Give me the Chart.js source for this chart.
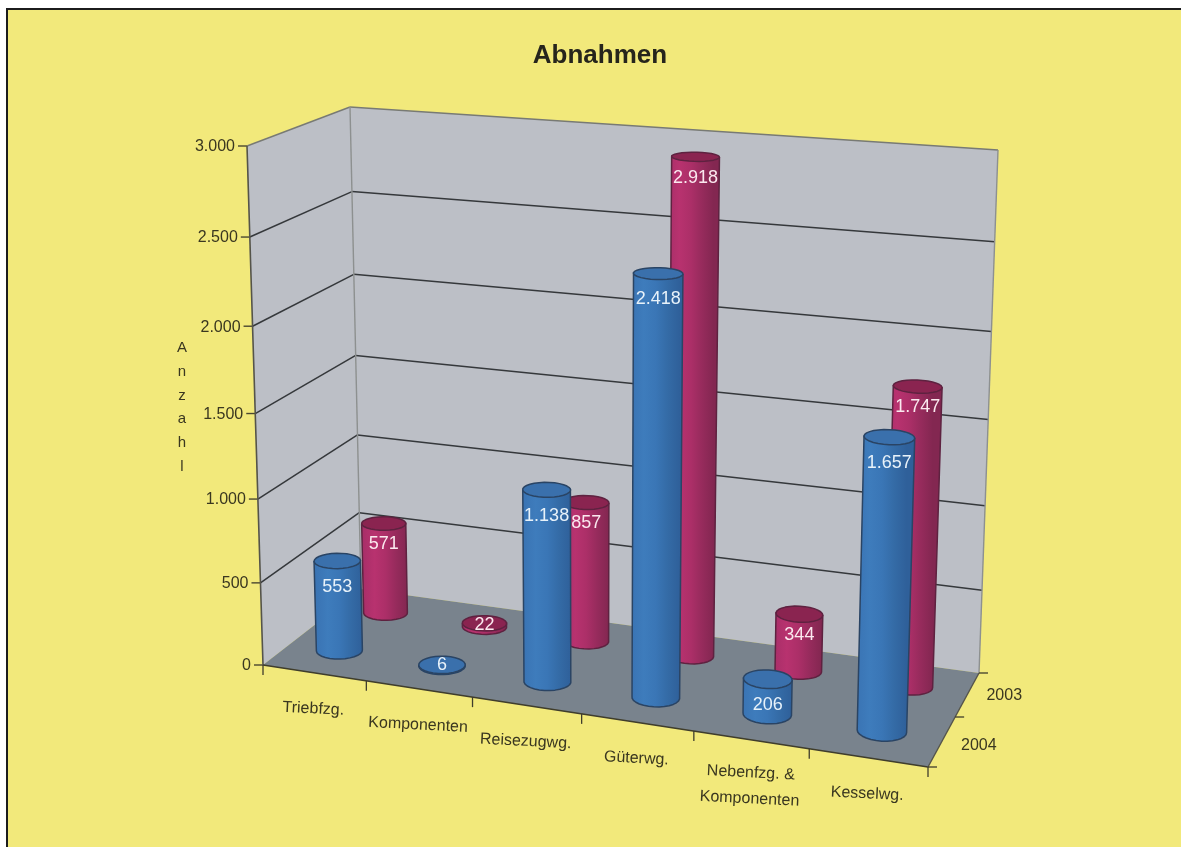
<!DOCTYPE html>
<html lang="de">

<head>
    <meta charset="UTF-8">
    <title>Abnahmen</title>
    <style>
        * {
            box-sizing: border-box;
            margin: 0;
            padding: 0;
        }

        html,
        body {
            width: 1181px;
            height: 847px;
            overflow: hidden;
            background: #fff;
        }

        #frame {
            position: absolute;
            left: 6px;
            top: 8px;
            width: 1175px;
            height: 839px;
            background: #f2e97b;
            border-left: 2px solid #1c1c1c;
            border-top: 2px solid #1c1c1c;
        }

        #chart {
            position: absolute;
            left: 0;
            top: 0;
        }
    </style>
</head>

<body>
    <div id="frame"></div>
    <canvas id="chart" width="1200" height="847"></canvas>

    <script src="https://cdn.jsdelivr.net/npm/chart.js@4/dist/chart.umd.min.js"></script>
    <script>
        const categories = ['Triebfzg.', 'Komponenten', 'Reisezugwg.', 'Güterwg.', ['Nebenfzg. &', 'Komponenten'], 'Kesselwg.'];
        const values2004 = [553, 6, 1138, 2418, 206, 1657];
        const values2003 = [571, 22, 857, 2918, 344, 1747];
        const valueLabels2004 = ['553', '6', '1.138', '2.418', '206', '1.657'];
        const valueLabels2003 = ['571', '22', '857', '2.918', '344', '1.747'];
        const yTicks = [0, 500, 1000, 1500, 2000, 2500, 3000];
        const yTickLabels = ['0', '500', '1.000', '1.500', '2.000', '2.500', '3.000'];
        const seriesNames = ['2004', '2003'];

        // box corners on the page, key is x y z (z = 1 is the back of the floor)
        const corners = {
            '000': [263, 665], '100': [928, 767], '001': [361, 589], '101': [979, 673],
            '010': [247, 146], '110': [944, 204], '011': [350, 107], '111': [998, 150]
        };
        const TEXT = '#3a3720';
        const FONT = '"Liberation Sans", Arial, sans-serif';

        // perspective: weighted mix of the 8 corners
        function project(x, y, z) {
            let px = 0, py = 0, sum = 0;
            for (const key in corners) {
                const a = +key[0], b = +key[1], c = +key[2];
                const w = (a ? x : 1 - x) * (b ? y : 1 - y) * (c ? z : 1 - z)
                    * (a ? 0.92 : 1) * (b ? 0.94 : 1) * (c ? 1 : 0.88);
                px += w * corners[key][0];
                py += w * corners[key][1];
                sum += w;
            }
            return [px / sum, py / sum];
        }

        function xPos(chart, v) {
            const s = chart.scales.x;
            return (s.getPixelForValue(v) - s.left) / (s.right - s.left);
        }

        function yPos(chart, v) {
            const s = chart.scales.y;
            return (s.bottom - s.getPixelForValue(v)) / (s.bottom - s.top);
        }

        function poly(ctx, pts, close) {
            ctx.beginPath();
            pts.forEach((p, i) => i ? ctx.lineTo(p[0], p[1]) : ctx.moveTo(p[0], p[1]));
            if (close) ctx.closePath();
        }

        function line(ctx, a, b, color, width) {
            ctx.strokeStyle = color;
            ctx.lineWidth = width;
            poly(ctx, [a, b]);
            ctx.stroke();
        }

        // walls, floor, grid and axis text
        const boxPlugin = {
            id: 'box',
            beforeDatasetsDraw(chart) {
                const ctx = chart.ctx;
                ctx.save();
                ctx.lineJoin = 'round';

                poly(ctx, [project(0, 0, 0), project(0, 1, 0), project(0, 1, 1), project(0, 0, 1)], true);
                ctx.fillStyle = '#bcbfc6';
                ctx.fill();
                poly(ctx, [project(0, 0, 1), project(0, 1, 1), project(1, 1, 1), project(1, 0, 1)], true);
                ctx.fill();
                poly(ctx, [project(0, 0, 0), project(1, 0, 0), project(1, 0, 1), project(0, 0, 1)], true);
                ctx.fillStyle = '#79838d';
                ctx.fill();

                yTicks.forEach((t, i) => {
                    const y = yPos(chart, t);
                    if (i > 0 && i < yTicks.length - 1) {
                        line(ctx, project(0, y, 0), project(0, y, 1), '#35383b', 1.5);
                        line(ctx, project(0, y, 1), project(1, y, 1), '#35383b', 1.5);
                    }
                    const p = project(0, y, 0);
                    line(ctx, [p[0] - 9, p[1]], p, '#4a4730', 1.4);
                    ctx.fillStyle = TEXT;
                    ctx.font = '16px ' + FONT;
                    ctx.textAlign = 'right';
                    ctx.textBaseline = 'middle';
                    ctx.fillText(yTickLabels[i], p[0] - 12, p[1] + 1);
                });

                // wall outlines
                line(ctx, project(0, 1, 0), project(0, 1, 1), '#787a74', 1.4);
                line(ctx, project(0, 1, 1), project(1, 1, 1), '#787a74', 1.4);
                line(ctx, project(1, 1, 1), project(1, 0, 1), '#8d9090', 1.4);
                line(ctx, project(0, 0, 1), project(0, 1, 1), '#8d9090', 1.4);
                line(ctx, project(0, 0, 0), project(0, 1, 0), '#55544a', 1.6);
                line(ctx, project(0, 0, 0), project(1, 0, 0), '#3f3d2c', 1.6);
                line(ctx, project(1, 0, 0), project(1, 0, 1), '#55544a', 1.4);

                // category ticks and labels
                categories.forEach((c, i) => {
                    const t = project(xPos(chart, i - 0.5), 0, 0);
                    line(ctx, t, [t[0], t[1] + 10], '#3f3d2c', 1.3);
                    const m = project(xPos(chart, i), 0, 0);
                    const rows = [].concat(c);
                    ctx.save();
                    ctx.translate(m[0] - 1, m[1] + 36 + (rows.length - 1) * 10);
                    ctx.rotate(0.05);
                    ctx.fillStyle = TEXT;
                    ctx.font = '16px ' + FONT;
                    ctx.textAlign = 'center';
                    ctx.textBaseline = 'middle';
                    rows.forEach((r, k) => ctx.fillText(r, 0, (k - (rows.length - 1) / 2) * 26));
                    ctx.restore();
                });
                const end = project(1, 0, 0);
                line(ctx, end, [end[0], end[1] + 10], '#3f3d2c', 1.3);

                // depth axis
                [0, 0.5, 1].forEach(z => {
                    const p = project(1, 0, z);
                    line(ctx, p, [p[0] + 9, p[1]], '#3f3d2c', 1.3);
                });
                seriesNames.forEach((name, i) => {
                    const p = project(1, 0, 0.25 + i * 0.5);
                    ctx.fillStyle = TEXT;
                    ctx.font = '16px ' + FONT;
                    ctx.textAlign = 'left';
                    ctx.textBaseline = 'middle';
                    ctx.fillText(name, p[0] + 19, p[1] + 4 - i * 3);
                });

                // y axis title, letters stacked
                ctx.fillStyle = TEXT;
                ctx.font = '15px ' + FONT;
                ctx.textAlign = 'center';
                ctx.textBaseline = 'middle';
                [...chart.options.scales.y.title.text].forEach((ch, i) => ctx.fillText(ch, 182, 348 + i * 23.7));
                ctx.restore();
            }
        };

        class CylinderController extends Chart.BarController {
            draw() {
                const chart = this.chart, ctx = chart.ctx, ds = this.getDataset();
                const R = 0.0345, RZ = 0.095, N = 28;
                ctx.save();
                ds.data.forEach((v, i) => {
                    const cx = xPos(chart, i) - 0.003, top = yPos(chart, v);
                    const ring = y => {
                        const pts = [];
                        for (let k = 0; k < N; k++) {
                            const a = k / N * Math.PI * 2;
                            pts.push(project(cx + R * Math.cos(a), y, ds.depth + RZ * Math.sin(a)));
                        }
                        return pts;
                    };
                    const low = ring(0), high = ring(top);
                    let l = 0, r = 0;
                    low.forEach((p, k) => {
                        if (p[0] < low[l][0]) l = k;
                        if (p[0] > low[r][0]) r = k;
                    });
                    // body: top silhouette down to the front half of the base
                    const body = [high[r]];
                    body.push(high[l]);
                    for (let k = l; ; k = (k + 1) % N) {
                        body.push(low[k]);
                        if (k === r) break;
                    }
                    const grad = ctx.createLinearGradient(low[l][0], 0, low[r][0], 0);
                    ds.shades.forEach((c, k) => grad.addColorStop(k / (ds.shades.length - 1), c));
                    ctx.lineJoin = 'round';
                    ctx.lineWidth = 1.5;
                    ctx.strokeStyle = ds.edge;
                    poly(ctx, body, true);
                    ctx.fillStyle = grad;
                    ctx.fill();
                    ctx.stroke();
                    poly(ctx, high, true);
                    ctx.fillStyle = ds.cap;
                    ctx.fill();
                    ctx.stroke();

                    // value label sits on the upper part of the body, flat discs get it centred
                    const c0 = project(cx, top, ds.depth), c1 = project(cx, 0, ds.depth);
                    const h = c1[1] - c0[1];
                    ctx.fillStyle = ds.labelColor;
                    ctx.font = '18px ' + FONT;
                    ctx.textAlign = 'center';
                    ctx.textBaseline = 'middle';
                    ctx.fillText(ds.valueLabels[i], c0[0], c0[1] + (h < 20 ? h / 2 : ds.labelDrop));
                });
                ctx.restore();
            }
        }
        CylinderController.id = 'cylinder';
        CylinderController.defaults = Chart.BarController.defaults;
        Chart.register(CylinderController);

        // later datasets draw first, so the 2003 row ends up behind 2004
        new Chart(document.getElementById('chart'), {
            type: 'cylinder',
            data: {
                labels: categories,
                datasets: [{
                    label: seriesNames[0],
                    data: values2004,
                    valueLabels: valueLabels2004,
                    depth: 0.26,
                    labelDrop: 26,
                    shades: ['#3a74b4', '#3e7cbc', '#3a76b6', '#346ba6', '#2f609a'],
                    cap: '#3a70ac',
                    edge: '#2a4464',
                    labelColor: '#e8f2fa'
                }, {
                    label: seriesNames[1],
                    data: values2003,
                    valueLabels: valueLabels2003,
                    depth: 0.75,
                    labelDrop: 21,
                    shades: ['#a92f69', '#b8326f', '#ac2f68', '#962b5c', '#832751'],
                    cap: '#8a2450',
                    edge: '#5e2240',
                    labelColor: '#fbe9ef'
                }]
            },
            options: {
                responsive: false,
                animation: false,
                events: [],
                scales: {
                    x: { type: 'category', display: false, offset: true },
                    y: { type: 'linear', display: false, min: 0, max: 3000, title: { text: 'Anzahl' } }
                },
                plugins: {
                    legend: { display: false },
                    tooltip: { enabled: false },
                    title: {
                        display: true,
                        text: 'Abnahmen',
                        color: '#26251c',
                        font: { family: FONT, size: 26, weight: 'bold' },
                        padding: { top: 40, bottom: 10 }
                    }
                }
            },
            plugins: [boxPlugin]
        });
    </script>
</body>

</html>
